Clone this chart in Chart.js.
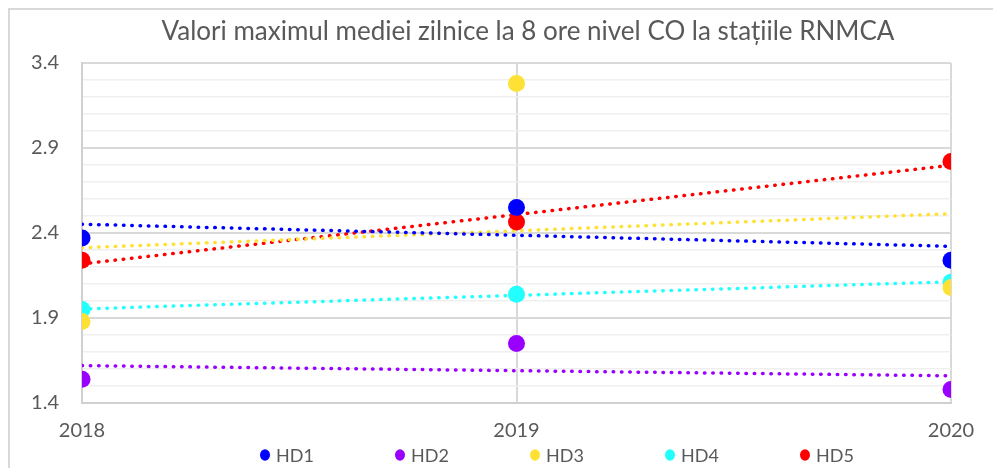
<!DOCTYPE html>
<html>
<head>
<meta charset="utf-8">
<script src="https://cdn.jsdelivr.net/npm/chart.js@4.4.1/dist/chart.umd.min.js"></script>
<style>
  body{margin:0;background:#fff;}
  #wrap{position:absolute;left:0;top:0;width:993px;height:468px;}
  #frame{position:absolute;left:8px;top:8px;width:1000px;height:500px;border-top:2px solid #d9d9d9;border-left:2px solid #d9d9d9;}
</style>
</head>
<body>
<div id="frame"></div>
<div id="wrap"><canvas id="grafic" width="993" height="468"></canvas></div>
<script>
const ani=[2018,2019,2020];
const statii=['HD1','HD2','HD3','HD4','HD5'];
const culori=['#0000ff','#9900ff','#ffe135','#22ffff','#ff0000'];
const hd1=[2.37,2.55,2.24];
const hd2=[1.54,1.75,1.48];
const hd3=[1.88,3.28,2.08];
const hd4=[1.95,2.04,2.11];
const hd5=[2.24,2.465,2.82];
const valori=[hd1,hd2,hd3,hd4,hd5];
const titlu='Valori maximul mediei zilnice la 8 ore nivel CO la stațiile RNMCA';

const FONT='Lato';
const GRI='#595959';

// linie de tendinta (regresie liniara) ca in Excel
function tendinta(xs,ys){
  const n=xs.length;
  const mx=xs.reduce((a,b)=>a+b,0)/n;
  const my=ys.reduce((a,b)=>a+b,0)/n;
  let sxy=0,sxx=0;
  for(let i=0;i<n;i++){sxy+=(xs[i]-mx)*(ys[i]-my);sxx+=(xs[i]-mx)*(xs[i]-mx);}
  const b=sxy/sxx,a=my-b*mx;
  return [{x:xs[0],y:a+b*xs[0]},{x:xs[n-1],y:a+b*xs[n-1]}];
}

const datasets=[];
statii.forEach((s,i)=>{
  datasets.push({
    label:s,
    data:ani.map((an,k)=>({x:an,y:valori[i][k]})),
    backgroundColor:culori[i],
    borderColor:culori[i],
    pointRadius:8.5,
    pointHoverRadius:8.5,
    borderWidth:0,
    order:0
  });
});
statii.forEach((s,i)=>{
  datasets.push({
    type:'line',
    label:'trend '+s,
    data:tendinta(ani,valori[i]),
    borderColor:culori[i],
    borderWidth:3.5,
    borderDash:[0.5,7.8],
    borderCapStyle:'round',
    pointRadius:0,
    fill:false,
    order:1
  });
});

// legenda desenata pe un rand, cu spatiere ca in original
const legendaRand={
  id:'legendaRand',
  afterLayout(chart){
    const t=chart.titleBlock;
    const w=t.right-t.left;
    t.left=528-w/2; t.right=528+w/2;
  },
  afterDraw(chart){
    const ctx=chart.ctx;
    ctx.save();
    ctx.font='18px '+FONT;
    ctx.textBaseline='middle';
    statii.forEach((s,i)=>{
      const cx=265+i*135, cy=455;
      ctx.beginPath();
      ctx.fillStyle=culori[i];
      ctx.ellipse(cx,cy,5,5.8,0,0,Math.PI*2);
      ctx.fill();
      ctx.fillStyle=GRI;
      ctx.fillText(s,cx+11,cy+1);
    });
    ctx.restore();
  }
};

const ctx=document.getElementById('grafic').getContext('2d');
const grafic=new Chart(ctx,{
  type:'scatter',
  data:{datasets:datasets},
  options:{
    responsive:false,
    animation:false,
    layout:{padding:{left:0,right:42,top:0,bottom:0}},
    plugins:{
      legend:{display:false},
      tooltip:{enabled:false},
      title:{
        display:true,
        text:titlu,
        color:GRI,
        font:{family:FONT,size:26,weight:'normal'},
        padding:{top:16.5,bottom:15.3}
      }
    },
    scales:{
      x:{
        type:'linear',
        min:2018,max:2020,
        afterFit(scale){scale.height=65;},
        ticks:{stepSize:1,color:GRI,font:{family:FONT,size:20},padding:16,
          callback:v=>String(v)},
        grid:{color:'#d9d9d9',lineWidth:2,drawTicks:false},
        border:{color:'#d0d0d0',width:2}
      },
      y:{
        min:1.4,max:3.4,
        afterFit(scale){scale.width=82;},
        ticks:{stepSize:0.1,color:GRI,font:{family:FONT,size:20},padding:23,autoSkip:false,
          callback:(v,i)=>i%5===0?v.toFixed(1):''},
        grid:{
          drawTicks:false,
          color:c=>c.index%5===0?'#d9d9d9':'#efefef',
          lineWidth:c=>c.index%5===0?2:1.5
        },
        border:{color:'#d0d0d0',width:2}
      }
    }
  },
  plugins:[legendaRand]
});
</script>
</body>
</html>
